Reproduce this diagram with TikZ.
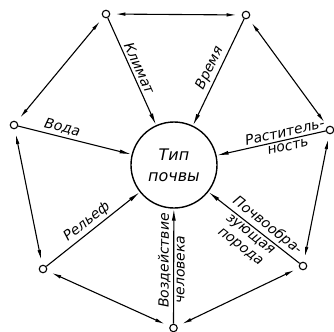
\documentclass[tikz,border=0pt]{standalone}
\usepackage{fontspec}
\setmainfont{DejaVu Sans}
\usetikzlibrary{arrows.meta}
\tikzset{
  sch/.style={x=1bp,y=-1bp,line width=1.1pt,font=\itshape\fontsize{14}{16}\selectfont},
  pt/.style={circle,draw,line width=1.1pt,minimum size=7.5bp,inner sep=0pt,fill=white},
  hubc/.style={circle,draw,line width=1.4pt,minimum size=86bp,inner sep=0pt,align=center,font=\itshape\fontsize{16}{21}\selectfont},
  rim/.style={{Latex[length=10bp,width=3.5bp]}-{Latex[length=10bp,width=3.5bp]},shorten <=5bp,shorten >=5bp},
  spk/.style={-{Latex[length=12bp,width=4bp]}},
  lbl/.style={sloped,inner sep=2.5bp,align=center}
}

\begin{document}
\begin{tikzpicture}[sch]
  \useasboundingbox (0,0) rectangle (334,332);
  \node[hubc] (hub) at (174,165) {Тип\\почвы};
  % outer factors
  \foreach \n/\x/\y in {a/106/14,b/246/15,c/330/130,d/303/266,e/173.5/328,f/43/269,g/14/125}
    {\node[pt] (\n) at (\x,\y) {};}
  \foreach \p/\q in {a/b,b/c,c/d,d/e,e/f,f/g,g/a}{\draw[rim] (\p)--(\q);}
  % spokes to the soil type
  \draw[spk] (a) -- node[lbl,above,pos=.5]{Климат} (hub);
  \draw[spk] (b) -- node[lbl,above,pos=.5]{Время} (hub);
  \draw[spk] (c) -- node[lbl,above,pos=.36]{Раститель-} node[lbl,below,pos=.36]{ность} (hub);
  \draw[spk] (d) -- node[lbl,above,pos=.42]{Почвообра-} node[lbl,below,pos=.49]{зующая\\порода} (hub);
  \draw[spk] (e) -- node[lbl,above,pos=.55]{Воздействие} node[lbl,below,pos=.47]{человека} (hub);
  \draw[spk] (f) -- node[lbl,above,pos=.5]{Рельеф} (hub);
  \draw[spk] (g) -- node[lbl,above,pos=.37]{Вода} (hub);
\end{tikzpicture}
\end{document}
